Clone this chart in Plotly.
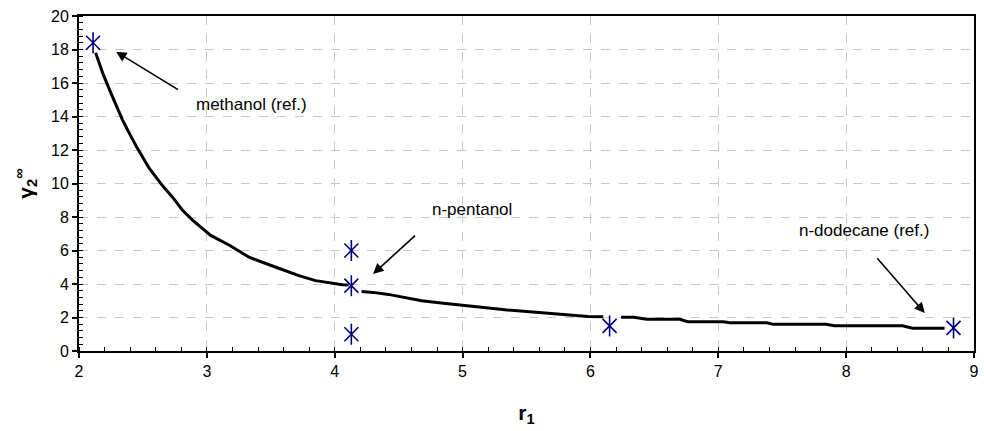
import plotly.graph_objects as go

# Experimental / reference points (r1, gamma2 infinity)
marker_r = [2.11, 4.13, 4.13, 4.13, 6.15, 8.84]
marker_g = [18.4, 6.0, 3.9, 1.0, 1.5, 1.38]

# Model curve (None = break in line behind markers)
curve_r = [2.13, 2.19, 2.25, 2.34, 2.40, 2.45, 2.55, 2.66, 2.73, 2.81, 2.89, 3.03, 3.18, 3.33,
           3.54, 3.72, 3.85, 4.06, 4.11, None,
           4.21, 4.30, 4.42, 4.55, 4.68, 4.85, 5.02, 5.18, 5.35, 5.55, 5.74, 5.98, 6.10, None,
           6.24, 6.34, 6.44, 6.70, 6.76, 7.04, 7.09, 7.38, 7.43, 7.84, 7.91, 8.44, 8.52, 8.77]
curve_g = [17.8, 16.5, 15.4, 13.8, 12.9, 12.2, 10.9, 9.8, 9.2, 8.4, 7.8, 6.9, 6.3, 5.6,
           5.0, 4.5, 4.2, 3.95, 3.94, None,
           3.55, 3.5, 3.38, 3.2, 3.0, 2.85, 2.7, 2.58, 2.45, 2.33, 2.2, 2.06, 2.05, None,
           2.01, 2.01, 1.89, 1.89, 1.75, 1.75, 1.69, 1.69, 1.59, 1.59, 1.51, 1.51, 1.36, 1.36]

# Annotations: label text, label position, arrow head, arrow tail
labels = ["methanol (ref.)", "n-pentanol", "n-dodecane (ref.)"]
label_r = [3.35, 5.07, 8.14]
label_g = [14.7, 8.42, 7.22]
head_r = [2.29, 4.30, 8.615]
head_g = [17.87, 4.60, 2.27]
tail_r = [2.786, 4.64, 8.233]
tail_g = [15.55, 6.97, 5.63]

x_range = [2, 9]
y_range = [0, 20]

FONT = "Liberation Sans, Arial, sans-serif"
NAVY = "#000080"

fig = go.Figure()
fig.add_trace(go.Scatter(x=curve_r, y=curve_g, mode="lines",
                         line=dict(color="black", width=3), connectgaps=False,
                         showlegend=False, hoverinfo="skip"))
fig.add_trace(go.Scatter(x=marker_r, y=marker_g, mode="markers",
                         marker=dict(symbol="x-thin-open", size=14, color=NAVY,
                                     line=dict(color=NAVY, width=1.6)),
                         showlegend=False))
fig.add_trace(go.Scatter(x=marker_r, y=marker_g, mode="markers",
                         marker=dict(symbol="line-ns-open", size=15, color=NAVY,
                                     line=dict(color=NAVY, width=1.6)),
                         showlegend=False))

for t, lx, ly, hx, hy, tx, ty in zip(labels, label_r, label_g, head_r, head_g, tail_r, tail_g):
    fig.add_annotation(x=lx, y=ly, text=t, showarrow=False,
                       font=dict(family=FONT, size=17, color="black"))
    fig.add_annotation(x=hx, y=hy, ax=tx, ay=ty, xref="x", yref="y",
                       axref="x", ayref="y", text="", showarrow=True,
                       arrowhead=2, arrowsize=1.3, arrowwidth=1.6, arrowcolor="black")

axis_common = dict(
    showline=True, linecolor="black", linewidth=2, mirror=True,
    showgrid=True, gridcolor="#c8c8c8", griddash="dash", gridwidth=1,
    zeroline=False, ticks="outside", ticklen=5, tickcolor="black", tickwidth=1.5,
    tickfont=dict(family=FONT, size=16, color="black"),
)

fig.update_xaxes(range=x_range, dtick=1, tick0=2,
                 minor=dict(dtick=0.2, ticks="inside", ticklen=4, tickcolor="black",
                            tickwidth=1, showgrid=False),
                 title=dict(text="<b>r<sub>1</sub></b>", standoff=26,
                            font=dict(family=FONT, size=21, color="black")),
                 **axis_common)
fig.update_yaxes(range=y_range, dtick=2, tick0=0,
                 minor=dict(dtick=0.4, ticks="inside", ticklen=4, tickcolor="black",
                            tickwidth=1, showgrid=False),
                 title=dict(text="<b>γ<sub>2</sub><sup>∞</sup></b>", standoff=12,
                            font=dict(family=FONT, size=21, color="black")),
                 **axis_common)

fig.update_layout(width=984, height=431,
                  margin=dict(l=79, r=5, t=16, b=80),
                  plot_bgcolor="white", paper_bgcolor="white",
                  font=dict(family=FONT, color="black"))

fig.write_html("out.html")
